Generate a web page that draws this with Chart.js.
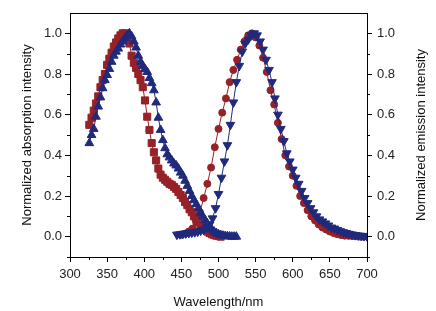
<!DOCTYPE html>
<html>
<head>
<meta charset="utf-8">
<script src="https://cdn.jsdelivr.net/npm/chart.js@4/dist/chart.umd.min.js"></script>
<style>
  body { margin: 0; background: #fff; }
  canvas { display: block; }
</style>
</head>
<body>
<canvas id="chart" width="436" height="311"></canvas>
<script>
// absorption, compound 1 (squares)
const absWl1 = [326, 329, 332, 335, 338, 341, 344, 347, 350, 353, 356, 359, 362, 365, 368, 371, 374, 377, 380, 383, 386, 389, 392, 395, 398, 401, 404, 407, 410, 413, 416, 419, 422, 425, 428, 431, 434, 437, 440, 443, 446, 449, 452, 455, 458, 461, 464, 467, 470, 473, 476, 479, 482, 485, 488, 491, 494, 497, 500, 503];
const absVal1 = [0.55, 0.585, 0.62, 0.655, 0.69, 0.735, 0.77, 0.80, 0.845, 0.875, 0.905, 0.935, 0.955, 0.975, 0.99, 1.0, 1.0, 0.985, 0.95, 0.89, 0.855, 0.83, 0.80, 0.77, 0.735, 0.67, 0.59, 0.525, 0.46, 0.415, 0.375, 0.335, 0.305, 0.29, 0.28, 0.27, 0.26, 0.255, 0.245, 0.235, 0.22, 0.205, 0.19, 0.17, 0.155, 0.135, 0.12, 0.10, 0.09, 0.07, 0.055, 0.045, 0.035, 0.025, 0.018, 0.012, 0.008, 0.005, 0.003, 0.0];

// absorption, compound 2 (triangles)
const absWl2 = [326, 329, 332, 335, 338, 341, 344, 347, 350, 353, 356, 359, 362, 365, 368, 371, 374, 377, 380, 383, 386, 389, 392, 395, 398, 401, 404, 407, 410, 413, 416, 419, 422, 425, 428, 431, 434, 437, 440, 443, 446, 449, 452, 455, 458, 461, 464, 467, 470, 473, 476, 479, 482, 485, 488, 491, 494, 497, 500, 503, 506, 509, 512, 515, 518, 521, 524];
const absVal2 = [0.46, 0.50, 0.53, 0.59, 0.64, 0.685, 0.73, 0.77, 0.795, 0.825, 0.86, 0.89, 0.91, 0.925, 0.945, 0.96, 0.975, 0.99, 1.0, 0.985, 0.96, 0.93, 0.89, 0.86, 0.84, 0.825, 0.81, 0.78, 0.755, 0.72, 0.66, 0.585, 0.525, 0.475, 0.435, 0.405, 0.39, 0.375, 0.36, 0.35, 0.335, 0.315, 0.30, 0.275, 0.25, 0.225, 0.20, 0.18, 0.16, 0.14, 0.115, 0.10, 0.08, 0.065, 0.05, 0.035, 0.025, 0.018, 0.012, 0.008, 0.005, 0.003, 0.002, 0.001, 0.0, 0.0, 0.0];

// emission, compound 1 (circles)
const emWl1 = [450, 455, 460, 465, 470, 475, 480, 485, 490, 495, 500, 505, 510, 515, 520, 525, 530, 535, 540, 545, 550, 555, 560, 565, 570, 575, 580, 585, 590, 595, 600, 605, 610, 615, 620, 625, 630, 635, 640, 645, 650, 655, 660, 665, 670, 675, 680, 685, 690, 695, 700];
const emVal1 = [0.01, 0.015, 0.025, 0.04, 0.07, 0.12, 0.19, 0.26, 0.34, 0.44, 0.53, 0.61, 0.68, 0.76, 0.82, 0.87, 0.92, 0.96, 0.99, 1.0, 0.98, 0.94, 0.88, 0.81, 0.72, 0.65, 0.56, 0.48, 0.40, 0.345, 0.30, 0.25, 0.20, 0.165, 0.13, 0.10, 0.08, 0.06, 0.045, 0.035, 0.025, 0.018, 0.012, 0.008, 0.005, 0.004, 0.003, 0.002, 0.001, 0.0, 0.0];

// emission, compound 2 (inverted triangles)
const emWl2 = [444, 448, 452, 456, 460, 464, 468, 472, 476, 480, 484, 488, 492, 496, 500, 504, 508, 512, 516, 520, 524, 528, 532, 536, 540, 544, 548, 552, 556, 560, 564, 568, 572, 576, 580, 584, 588, 592, 596, 600, 604, 608, 612, 616, 620, 624, 628, 632, 636, 640, 644, 648, 652, 656, 660, 664, 668, 672, 676, 680, 684, 688, 692, 696, 700];
const emVal2 = [0.01, 0.012, 0.014, 0.016, 0.018, 0.02, 0.022, 0.025, 0.03, 0.035, 0.045, 0.06, 0.09, 0.14, 0.21, 0.29, 0.37, 0.45, 0.55, 0.66, 0.76, 0.84, 0.91, 0.95, 0.97, 0.99, 1.0, 0.99, 0.96, 0.92, 0.87, 0.82, 0.76, 0.68, 0.60, 0.53, 0.47, 0.41, 0.37, 0.33, 0.29, 0.26, 0.225, 0.19, 0.165, 0.14, 0.12, 0.10, 0.085, 0.075, 0.065, 0.055, 0.045, 0.04, 0.033, 0.027, 0.022, 0.018, 0.014, 0.011, 0.008, 0.006, 0.004, 0.003, 0.002];

const xTicks = [300, 350, 400, 450, 500, 550, 600, 650, 700];
const yTicks = [0, 0.2, 0.4, 0.6, 0.8, 1.0];

const RED = '#962127';
const BLUE = '#1f2a7c';
const FONT = "'Liberation Sans', Arial, sans-serif";

function pts(xs, ys) {
    return xs.map((x, i) => ({x: x, y: ys[i]}));
}

// frame on top, minor ticks, right-hand title (reads bottom to top)
const framePlugin = {
    id: 'frame',
    afterDraw(chart) {
        const {ctx, chartArea, scales} = chart;
        ctx.save();
        ctx.strokeStyle = '#000';
        ctx.lineWidth = 1;
        ctx.beginPath();
        ctx.moveTo(chartArea.left, chartArea.top + 0.5);
        ctx.lineTo(chartArea.right, chartArea.top + 0.5);
        for (let v = -0.1; v < 1.05; v += 0.2) {
            const y = Math.round(scales.y.getPixelForValue(v)) + 0.5;
            ctx.moveTo(chartArea.left - 3, y);
            ctx.lineTo(chartArea.left, y);
            ctx.moveTo(chartArea.right, y);
            ctx.lineTo(chartArea.right + 3, y);
        }
        for (let v = 325; v < 700; v += 50) {
            const x = Math.round(scales.x.getPixelForValue(v)) + 0.5;
            ctx.moveTo(x, chartArea.bottom);
            ctx.lineTo(x, chartArea.bottom + 3);
        }
        ctx.stroke();

        ctx.fillStyle = '#111';
        ctx.font = '13px ' + FONT;
        ctx.textAlign = 'center';
        ctx.textBaseline = 'middle';
        ctx.translate(421, (chartArea.top + chartArea.bottom) / 2);
        ctx.rotate(-Math.PI / 2);
        ctx.fillText('Normalized emission intensity', 0, 0);
        ctx.restore();
    }
};

const yAxisBase = {
    type: 'linear',
    min: -0.1,
    max: 1.1,
    afterBuildTicks: scale => { scale.ticks = yTicks.map(v => ({value: v})); },
    border: {display: true, color: '#000', width: 1},
    grid: {drawOnChartArea: false, tickLength: 5, color: '#000'}
};

const ctx = document.getElementById('chart').getContext('2d');
new Chart(ctx, {
    type: 'line',
    data: {
        datasets: [{
            label: 'abs 2',
            data: pts(absWl2, absVal2),
            yAxisID: 'y',
            borderColor: BLUE,
            backgroundColor: BLUE,
            pointStyle: 'triangle',
            pointRadius: 5,
            borderWidth: 1,
            order: 0
        }, {
            label: 'em 2',
            data: pts(emWl2, emVal2),
            yAxisID: 'y2',
            borderColor: BLUE,
            backgroundColor: BLUE,
            pointStyle: 'triangle',
            pointRotation: 180,
            pointRadius: 5,
            borderWidth: 1,
            order: 1
        }, {
            label: 'abs 1',
            data: pts(absWl1, absVal1),
            yAxisID: 'y',
            borderColor: RED,
            backgroundColor: RED,
            pointStyle: 'rect',
            pointRadius: 5,
            borderWidth: 1,
            order: 2
        }, {
            label: 'em 1',
            data: pts(emWl1, emVal1),
            yAxisID: 'y2',
            borderColor: RED,
            backgroundColor: RED,
            pointStyle: 'circle',
            pointRadius: 3.5,
            borderWidth: 1,
            order: 3
        }]
    },
    options: {
        responsive: false,
        animation: false,
        devicePixelRatio: 1,
        layout: {padding: {top: 13, left: 0, right: 0, bottom: 0}},
        elements: {
            line: {tension: 0},
            point: {borderWidth: 0, hoverRadius: 5}
        },
        plugins: {
            legend: {display: false},
            tooltip: {enabled: false}
        },
        scales: {
            x: {
                type: 'linear',
                min: 300,
                max: 700,
                afterBuildTicks: scale => { scale.ticks = xTicks.map(v => ({value: v})); },
                afterFit: scale => { scale.height = 54; },
                border: {display: true, color: '#000', width: 1},
                grid: {drawOnChartArea: false, tickLength: 5, color: '#000'},
                ticks: {color: '#222', padding: 5, maxRotation: 0, font: {family: FONT, size: 13}},
                title: {display: true, text: 'Wavelength/nm', color: '#111', padding: {top: 0, bottom: 1}, font: {family: FONT, size: 13}}
            },
            y: Object.assign({}, yAxisBase, {
                position: 'left',
                afterFit: scale => { scale.width = 70; },
                ticks: {color: '#222', padding: 3, font: {family: FONT, size: 13}, callback: v => v.toFixed(1)},
                title: {display: true, text: 'Normalized absorption intensity', color: '#111', padding: {top: 20, bottom: 0}, font: {family: FONT, size: 13}}
            }),
            y2: Object.assign({}, yAxisBase, {
                position: 'right',
                afterFit: scale => { scale.width = 69; },
                ticks: {color: '#222', padding: 5, font: {family: FONT, size: 13}, callback: v => v.toFixed(1)},
                title: {display: false}
            })
        }
    },
    plugins: [framePlugin]
});
</script>
</body>
</html>
